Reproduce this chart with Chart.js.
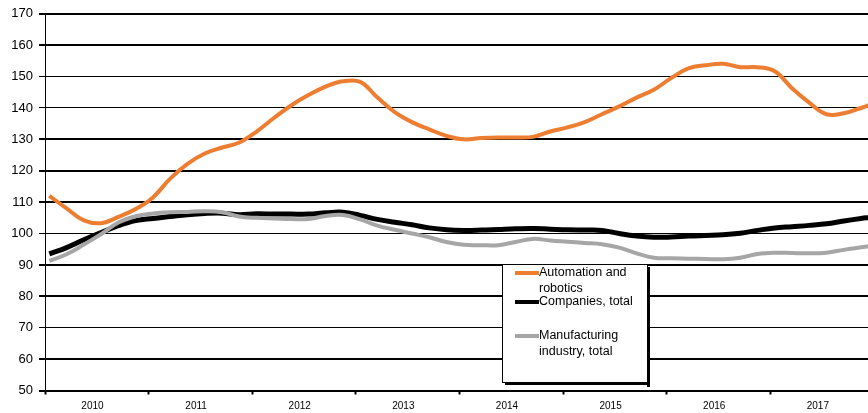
<!DOCTYPE html>
<html>
<head>
<meta charset="utf-8">
<script src="https://cdn.jsdelivr.net/npm/chart.js@4/dist/chart.umd.min.js"></script>
<style>
  html, body { margin: 0; padding: 0; background: #fff; overflow: hidden; width: 868px; height: 413px; }
  canvas { display: block; }
</style>
</head>
<body>
<canvas id="chart" width="880" height="413"></canvas>
<script>
// months since Jan 2010 (one point every two months)
var months = [0.5, 2.5, 4.5, 6.5, 8.5, 10.5, 12.5, 14.5, 16.5, 18.5, 20.5, 22.5,
  24.5, 26.5, 28.5, 30.5, 32.5, 34.5, 36.5, 38.5, 40.5, 42.5, 44.5, 46.5,
  48.5, 50.5, 52.5, 54.5, 56.5, 58.5, 60.5, 62.5, 64.5, 66.5, 68.5, 70.5,
  72.5, 74.5, 76.5, 78.5, 80.5, 82.5, 84.5, 86.5, 88.5, 90.5, 92.5, 94.5, 95.5];

var years = ['2010', '2011', '2012', '2013', '2014', '2015', '2016', '2017'];

var automation = [112, 108, 104.2, 103.3, 105.3, 107.8, 111.5, 117.5, 122.2, 125.5, 127.4, 129,
  132.5, 136.8, 140.8, 144.1, 146.8, 148.5, 148.3, 143.3, 138.7, 135.5, 133.2, 131.1,
  130, 130.4, 130.6, 130.6, 130.8, 132.5, 133.8, 135.5, 138, 140.5, 143.3, 145.8,
  149.5, 152.6, 153.6, 154.1, 153, 153, 151.7, 146.3, 141.7, 138, 138.3, 140, 141];

var companies = [93.5, 95.5, 98, 100.3, 102.5, 104.1, 104.8, 105.4, 106, 106.4, 106.5, 106,
  106.3, 106.2, 106.2, 106.2, 106.6, 106.8, 105.8, 104.5, 103.6, 102.8, 101.8, 101.2,
  101, 101.1, 101.3, 101.5, 101.6, 101.4, 101.2, 101.1, 101, 100, 99.2, 98.8,
  98.9, 99.2, 99.4, 99.6, 100.1, 101, 101.8, 102.2, 102.6, 103.1, 104, 104.8, 105.1];

var manufacturing = [91.3, 93.4, 96.5, 99.8, 103.5, 105.5, 106.4, 106.8, 106.9, 107.1, 106.8, 105.4,
  105, 104.8, 104.6, 104.6, 105.6, 105.9, 104.5, 102.5, 101.2, 100, 98.8, 97.3,
  96.4, 96.3, 96.3, 97.3, 98.3, 97.8, 97.4, 97, 96.6, 95.5, 93.7, 92.3,
  92.1, 92, 91.9, 91.8, 92.3, 93.5, 93.9, 93.8, 93.7, 93.9, 94.8, 95.6, 96];

var seriesNames = ['Automation and\nrobotics', 'Companies, total', 'Manufacturing\nindustry, total'];
var seriesColors = ['#ED7D31', '#000000', '#A6A6A6'];

// gridlines that come out thin in the original picture
var thinGrid = [150, 140, 100, 70];

function toPoints(values) {
  return values.map(function(v, i) { return { x: months[i], y: v }; });
}

// boxed legend with a drop shadow
var boxLegend = {
  id: 'boxLegend',
  afterDraw: function(chart) {
    var ctx = chart.ctx;
    var x = 502, y = 264, w = 145, h = 118;
    ctx.save();
    ctx.fillStyle = '#fff';
    ctx.fillRect(x, y, w, h);
    ctx.strokeStyle = '#000';
    ctx.lineWidth = 1;
    ctx.strokeRect(x + 0.5, y + 0.5, w, h);
    ctx.fillStyle = '#000';
    ctx.fillRect(x + w, y + 3, 3, h + 2);
    ctx.fillRect(x + 3, y + h, w, 3);

    var rows = [273, 302, 336];
    ctx.font = '12.5px Arial, "Liberation Sans", sans-serif';
    ctx.textBaseline = 'middle';
    seriesNames.forEach(function(name, i) {
      ctx.strokeStyle = seriesColors[i];
      ctx.lineWidth = 4;
      ctx.beginPath();
      ctx.moveTo(515, rows[i]);
      ctx.lineTo(539, rows[i]);
      ctx.stroke();
      ctx.fillStyle = '#000';
      name.split('\n').forEach(function(line, j) {
        ctx.fillText(line, 539, rows[i] + j * 16);
      });
    });
    ctx.restore();
  }
};

var ctx = document.getElementById('chart');
new Chart(ctx, {
  type: 'line',
  data: {
    datasets: [
      { label: 'Automation and robotics', data: toPoints(automation), borderColor: seriesColors[0] },
      { label: 'Manufacturing industry, total', data: toPoints(manufacturing), borderColor: seriesColors[2] },
      { label: 'Companies, total', data: toPoints(companies), borderColor: seriesColors[1], borderWidth: 5 }
    ]
  },
  options: {
    responsive: false,
    animation: false,
    events: [],
    layout: { padding: { top: 13, right: 5, left: 0, bottom: 0 } },
    elements: {
      line: { borderWidth: 4, tension: 0.4, fill: false },
      point: { radius: 0 }
    },
    plugins: {
      legend: { display: false },
      tooltip: { enabled: false }
    },
    scales: {
      x: {
        type: 'linear',
        min: 0,
        max: 96,
        afterBuildTicks: function(scale) {
          var t = [];
          for (var i = 0; i <= years.length; i++) {
            t.push({ value: i * 12 });
            if (i < years.length) t.push({ value: i * 12 + 5.5 });
          }
          scale.ticks = t;
        },
        afterFit: function(scale) { scale.height = 22.5; },
        ticks: {
          autoSkip: false,
          maxRotation: 0,
          padding: 6,
          color: '#000',
          font: { family: 'Arial, "Liberation Sans", sans-serif', size: 10 },
          callback: function(value) {
            if (value % 12 === 0) return '';
            return years[Math.floor(value / 12)];
          }
        },
        grid: {
          drawOnChartArea: false,
          tickLength: 4,
          tickWidth: 2,
          tickColor: function(c) {
            return c.tick && c.tick.value % 12 === 0 ? '#000' : 'rgba(0,0,0,0)';
          }
        },
        border: { color: '#000', width: 2 }
      },
      y: {
        min: 50,
        max: 170,
        afterFit: function(scale) { scale.width = 45; },
        ticks: {
          stepSize: 10,
          padding: 6,
          color: '#000',
          font: { family: 'Arial, "Liberation Sans", sans-serif', size: 13 }
        },
        grid: {
          color: '#000',
          tickLength: 6,
          lineWidth: function(c) {
            return c.tick && thinGrid.indexOf(c.tick.value) >= 0 ? 1 : 2;
          }
        },
        border: { color: '#000', width: 1 }
      }
    }
  },
  plugins: [boxLegend]
});
</script>
</body>
</html>
